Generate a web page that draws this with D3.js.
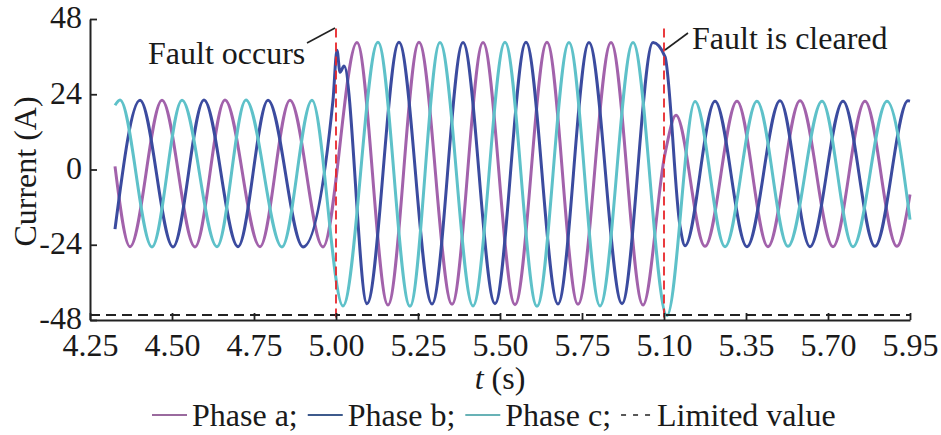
<!DOCTYPE html>
<html>
<head>
<meta charset="utf-8">
<script src="https://cdn.jsdelivr.net/npm/d3@7/dist/d3.min.js"></script>
<style>
  html, body { margin: 0; padding: 0; background: #fff; }
  svg { display: block; }
</style>
</head>
<body>
<svg id="chart" width="941" height="435"></svg>
<script>
// ---- Data (x in tick-position units, 0 = first tick label) ----
const tickLabels = ["4.25","4.50","4.75","5.00","5.25","5.50","5.75","5.10","5.35","5.70","5.95"];
const yTicks = [48, 24, 0, -24, -48];

const phaseAx = [0.305,0.488,0.878,1.280,1.646,2.073,2.439,2.841,3.256,3.634,4.012,4.415,4.793,5.183,5.573,5.951,6.354,6.744,7.012,7.146,7.500,7.890,8.268,8.659,9.061,9.451,9.841,10.0];
const phaseAy = [1,-24.6,22.1,-24.7,22.2,-24.6,22.1,-24.7,40.5,-43.2,40.6,-43.0,40.5,-43.1,40.6,-43.0,40.5,-43.2,5,17.3,-24.5,21.8,-24.6,21.9,-24.6,21.8,-24.5,-8];

const phaseBx = [0.305,0.610,1.012,1.390,1.805,2.171,2.598,2.963,3.012,3.049,3.098,3.378,3.768,4.171,4.549,4.939,5.317,5.707,6.085,6.488,6.866,7.012,7.195,7.256,7.622,8.012,8.415,8.780,9.183,9.573,9.976,10.0];
const phaseBy = [-19,22.1,-24.7,22.2,-24.6,22.1,-24.7,22.0,38,31,33,-42.8,40.6,-42.9,40.5,-42.8,40.6,-42.9,40.5,-42.8,40.5,36,-18,-24.3,21.8,-24.6,21.9,-24.6,21.8,-24.5,21.9,21.8];

const phaseCx = [0.305,0.366,0.756,1.122,1.549,1.902,2.341,2.707,3.085,3.512,3.902,4.268,4.671,5.061,5.451,5.841,6.220,6.622,7.037,7.378,7.744,8.134,8.512,8.927,9.305,9.720,10.0];
const phaseCy = [20.5,22.2,-24.7,22.1,-24.6,22.2,-24.7,22.1,-43.5,40.6,-43.6,40.5,-43.5,40.6,-43.6,40.5,-43.5,40.5,-46.6,21.7,-24.6,21.8,-24.5,21.8,-24.6,21.8,-16];

const limitedValue = -46.4;
const faultPositions = [3, 7];          // "5.00" and "5.10"
const faultLineTop = 45;
const seriesNames = ["Phase a;", "Phase b;", "Phase c;"];
const limitName = "Limited value";
const annotations = ["Fault occurs", "Fault is cleared"];

// ---- Layout ----
const FONT = "Liberation Serif";
const colors = ["#a262ab", "#3b4b9f", "#5ec1c9"];
const legendColors = ["#9a6a9e", "#3d5a8c", "#68b2b6"];
const svg = d3.select("#chart");
const pLeft = 90, pRight = 910, pTop = 19, pBottom = 320;

const x = d3.scaleLinear().domain([0, tickLabels.length - 1]).range([pLeft, pRight]);
const y = d3.scaleLinear().domain([-48, 48]).range([pBottom, pTop]);

const series = [
  phaseAx.map((v, i) => [v, phaseAy[i]]),
  phaseBx.map((v, i) => [v, phaseBy[i]]),
  phaseCx.map((v, i) => [v, phaseCy[i]])
];

const line = d3.line().x(d => x(d[0])).y(d => y(d[1])).curve(d3.curveMonotoneX);

// waveforms
series.forEach((s, i) => {
  svg.append("path").datum(s)
    .attr("d", line)
    .attr("fill", "none")
    .attr("stroke", colors[i])
    .attr("stroke-width", 3)
    .attr("stroke-linejoin", "round");
});

// limited value line
svg.append("line")
  .attr("x1", x(0)).attr("x2", x(tickLabels.length - 1))
  .attr("y1", y(limitedValue)).attr("y2", y(limitedValue))
  .attr("stroke", "#222").attr("stroke-width", 1.8)
  .attr("stroke-dasharray", "10,6");

// fault lines
faultPositions.forEach(p => {
  svg.append("line")
    .attr("x1", x(p)).attr("x2", x(p))
    .attr("y1", y(faultLineTop)).attr("y2", y(-48))
    .attr("stroke", "#e8262b").attr("stroke-width", 1.8)
    .attr("stroke-dasharray", "9,5");
});

// axes
const xAxis = d3.axisBottom(x)
  .tickValues(d3.range(tickLabels.length))
  .tickFormat(i => tickLabels[i])
  .tickSizeInner(-7).tickSizeOuter(0).tickPadding(17);
const gx = svg.append("g").attr("transform", `translate(0,${pBottom})`).call(xAxis);
gx.attr("font-family", null);
gx.select(".domain").attr("stroke", "#222").attr("stroke-width", 2);
gx.selectAll(".tick line").attr("stroke", "#222").attr("stroke-width", 1.8);
gx.selectAll(".tick text").attr("dy", "0.6em");

const yAxis = d3.axisLeft(y)
  .tickValues(yTicks)
  .tickFormat(d => String(d))
  .tickSizeInner(-7).tickSizeOuter(0).tickPadding(8);
const gy = svg.append("g").attr("transform", `translate(${pLeft},0)`).call(yAxis);
gy.attr("font-family", null);
gy.select(".domain").attr("stroke", "#222").attr("stroke-width", 2);
gy.selectAll(".tick line").attr("stroke", "#222").attr("stroke-width", 1.8);
gy.selectAll(".tick text").attr("dy", "0.28em");

// axis titles
const xt = svg.append("text").attr("x", (pLeft + pRight) / 2).attr("y", 389)
  .attr("text-anchor", "middle");
xt.append("tspan").style("font-style", "italic").text("t");
xt.append("tspan").text(" (s)");

svg.append("text")
  .attr("transform", `translate(36,${(pTop + pBottom) / 2 + 2}) rotate(-90)`)
  .attr("text-anchor", "middle")
  .text("Current (A)");

// annotations
svg.append("text").attr("x", 148).attr("y", 64).text(annotations[0]);
svg.append("line").attr("x1", 307).attr("y1", 43).attr("x2", x(faultPositions[0]) - 1).attr("y2", 28)
  .attr("stroke", "#222").attr("stroke-width", 1.6);
svg.append("text").attr("x", 692).attr("y", 49).text(annotations[1]);
svg.append("line").attr("x1", x(faultPositions[1]) + 1).attr("y1", 50).attr("x2", 688).attr("y2", 33)
  .attr("stroke", "#222").attr("stroke-width", 1.6);

// style all texts so far
function styleText(sel) {
  sel.style("font-family", FONT).style("font-size", "32px").attr("fill", "#1a1a1a");
}
styleText(svg.selectAll("text"));

// legend
const lg = svg.append("g");
let cx = 152;
const ly = 415, lty = 426;
seriesNames.forEach((name, i) => {
  lg.append("line").attr("x1", cx).attr("x2", cx + 35).attr("y1", ly).attr("y2", ly)
    .attr("stroke", legendColors[i]).attr("stroke-width", 2);
  const t = lg.append("text").attr("x", cx + 40).attr("y", lty).text(name);
  styleText(t);
  cx += 40 + t.node().getComputedTextLength() + 10;
});
lg.append("line").attr("x1", cx).attr("x2", cx + 32).attr("y1", ly).attr("y2", ly)
  .attr("stroke", "#222").attr("stroke-width", 1.6).attr("stroke-dasharray", "5,7");
styleText(lg.append("text").attr("x", cx + 36).attr("y", lty).text(limitName));
</script>
</body>
</html>
